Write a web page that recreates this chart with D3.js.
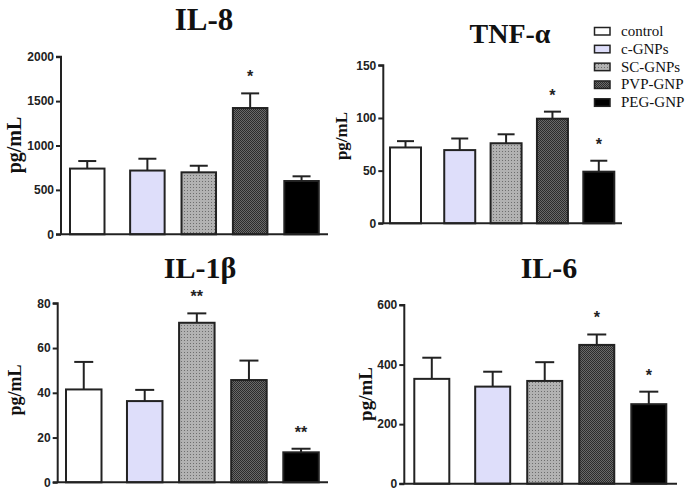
<!DOCTYPE html>
<html><head><meta charset="utf-8">
<script src="https://cdn.jsdelivr.net/npm/d3@7"></script>
<style>body{margin:0;background:#fff}svg{display:block}</style>
</head><body>
<svg id="c" width="688" height="495"></svg>
<script>
const categories = ["control","c-GNPs","SC-GNPs","PVP-GNP","PEG-GNP"];
const il8Mean = [740, 718, 698, 1422, 600];
const il8Err  = [85, 133, 74, 165, 53];
const il8Sig  = ["","","","*",""];
const il8Ticks = [0,500,1000,1500,2000];
const tnfMean = [72, 69.5, 76, 99.3, 49];
const tnfErr  = [6, 11, 8.5, 6.7, 10.4];
const tnfSig  = ["","","","*","*"];
const tnfTicks = [0,50,100,150];
const il1bMean = [41.5, 36.3, 71.3, 45.7, 13.4];
const il1bErr  = [12.3, 5, 4.2, 8.7, 1.6];
const il1bSig  = ["","","**","","**"];
const il1bTicks = [0,20,40,60,80];
const il6Mean = [352, 326, 345, 466, 267];
const il6Err  = [71, 50, 63, 35, 42];
const il6Sig  = ["","","","*","*"];
const il6Ticks = [0,200,400,600];
const yLabel = "pg/mL";

const svg = d3.select("#c");
const defs = svg.append("defs");
// dotted gray pattern
const p1 = defs.append("pattern").attr("id","pSC").attr("patternUnits","userSpaceOnUse").attr("width",3).attr("height",3);
p1.append("rect").attr("width",3).attr("height",3).attr("fill","#b2b2b2");
p1.append("rect").attr("x",1).attr("y",1).attr("width",1).attr("height",1).attr("fill","#6e6e6e");
// checkered dark pattern
const p2 = defs.append("pattern").attr("id","pPVP").attr("patternUnits","userSpaceOnUse").attr("width",2).attr("height",2);
p2.append("rect").attr("width",2).attr("height",2).attr("fill","#6a6a6a");
p2.append("rect").attr("width",1).attr("height",1).attr("fill","#2c2c2c");
p2.append("rect").attr("x",1).attr("y",1).attr("width",1).attr("height",1).attr("fill","#2c2c2c");

const fills = d3.scaleOrdinal().domain(categories)
  .range(["#ffffff","#dedefa","url(#pSC)","url(#pPVP)","#000000"]);

const panels = [
  {title:"IL-8", mean:il8Mean, err:il8Err, sig:il8Sig, ticks:il8Ticks,
   ax:61, right:328, yTop:56.7, yBot:234.3, bar0:70, barLast:284.3, barW:34.5, capW:18,
   tx:204, ty:30, ts:31, lx:14, ly:145, ls:20},
  {title:"TNF-α", mean:tnfMean, err:tnfErr, sig:tnfSig, ticks:tnfTicks,
   ax:383.3, right:622, yTop:65.3, yBot:223.3, bar0:390, barLast:583.3, barW:31, capW:17,
   tx:510, ty:43, ts:28, lx:341, ly:136, ls:17},
  {title:"IL-1β", mean:il1bMean, err:il1bErr, sig:il1bSig, ticks:il1bTicks,
   ax:57.7, right:328, yTop:303.3, yBot:482.3, bar0:66, barLast:283.3, barW:35.5, capW:19,
   tx:200, ty:278, ts:30, lx:15, ly:390, ls:18},
  {title:"IL-6", mean:il6Mean, err:il6Err, sig:il6Sig, ticks:il6Ticks,
   ax:404.3, right:677, yTop:305, yBot:483.7, bar0:414.3, barLast:631.3, barW:35, capW:19,
   tx:549, ty:278, ts:30, lx:365, ly:394, ls:19}
];
const gapExtra = 0.17;
const slot = i => i + (i > 0 ? gapExtra : 0);

panels.forEach(p => {
  const g = svg.append("g");
  const y = d3.scaleLinear().domain([0, d3.max(p.ticks)]).range([p.yBot, p.yTop]);
  const x = d3.scaleLinear().domain([0, 4 + gapExtra]).range([p.bar0, p.barLast]);
  const rows = categories.map((c,i) => ({c, i, v:p.mean[i], e:p.err[i], s:p.sig[i]}));

  // error bars
  g.selectAll(".eb").data(rows).join("line")
    .attr("x1", d => x(slot(d.i)) + p.barW/2).attr("x2", d => x(slot(d.i)) + p.barW/2)
    .attr("y1", d => y(d.v)).attr("y2", d => y(d.v + d.e))
    .attr("stroke","#222").attr("stroke-width",2);
  g.selectAll(".cap").data(rows).join("line")
    .attr("x1", d => x(slot(d.i)) + p.barW/2 - p.capW/2).attr("x2", d => x(slot(d.i)) + p.barW/2 + p.capW/2)
    .attr("y1", d => y(d.v + d.e)).attr("y2", d => y(d.v + d.e))
    .attr("stroke","#222").attr("stroke-width",2);
  // bars
  g.selectAll(".bar").data(rows).join("rect")
    .attr("x", d => x(slot(d.i))).attr("width", p.barW)
    .attr("y", d => y(d.v)).attr("height", d => y(0) - y(d.v))
    .attr("fill", d => fills(d.c)).attr("stroke","#222").attr("stroke-width",2);
  // significance
  g.selectAll(".sig").data(rows.filter(d => d.s)).join("text")
    .attr("x", d => x(slot(d.i)) + p.barW/2).attr("y", d => y(d.v + d.e) - 11)
    .attr("text-anchor","middle").attr("font-family","Liberation Sans, Arial, sans-serif")
    .attr("font-weight","bold").attr("font-size",16).attr("fill","#222").text(d => d.s);

  // axes
  const yAxis = d3.axisLeft(y).tickValues(p.ticks).tickSize(5).tickPadding(2).tickFormat(d3.format("d"));
  const ag = g.append("g").attr("transform",`translate(${p.ax},0)`).call(yAxis);
  ag.select(".domain").attr("stroke","#222").attr("stroke-width",2).attr("d",`M-5,${p.yTop}H0V${p.yBot}`);
  ag.selectAll(".tick line").attr("stroke","#222").attr("stroke-width",2);
  ag.selectAll(".tick text").attr("font-family","Liberation Sans, Arial, sans-serif")
    .attr("font-weight","bold").attr("font-size",12).attr("fill","#222");
  g.append("line").attr("x1",p.ax - 5).attr("x2",p.right).attr("y1",p.yBot).attr("y2",p.yBot)
    .attr("stroke","#222").attr("stroke-width",2);

  // title
  g.append("text").attr("x",p.tx).attr("y",p.ty).attr("text-anchor","middle")
    .attr("font-family","Liberation Serif, Times New Roman, serif").attr("font-weight","bold")
    .attr("font-size",p.ts).attr("fill","#111").text(p.title);
  // y label
  g.append("text").attr("transform",`translate(${p.lx},${p.ly}) rotate(-90)`)
    .attr("text-anchor","middle").attr("dominant-baseline","central")
    .attr("font-family","Liberation Serif, Times New Roman, serif").attr("font-weight","bold")
    .attr("font-size",p.ls).attr("fill","#111").text(yLabel);
});

// legend
const lg = svg.append("g");
const ly = d3.scalePoint().domain(categories).range([31, 102.3]);
lg.selectAll("rect").data(categories).join("rect")
  .attr("x",594.5).attr("y", d => ly(d) - 3.5).attr("width",15.5).attr("height",7.5)
  .attr("fill", d => fills(d)).attr("stroke","#222").attr("stroke-width",1.5);
lg.selectAll("text").data(categories).join("text")
  .attr("x",621).attr("y", d => ly(d) + 5)
  .attr("font-family","Liberation Serif, Times New Roman, serif").attr("font-size",15)
  .attr("fill","#111").text(d => d);
</script>
</body></html>
